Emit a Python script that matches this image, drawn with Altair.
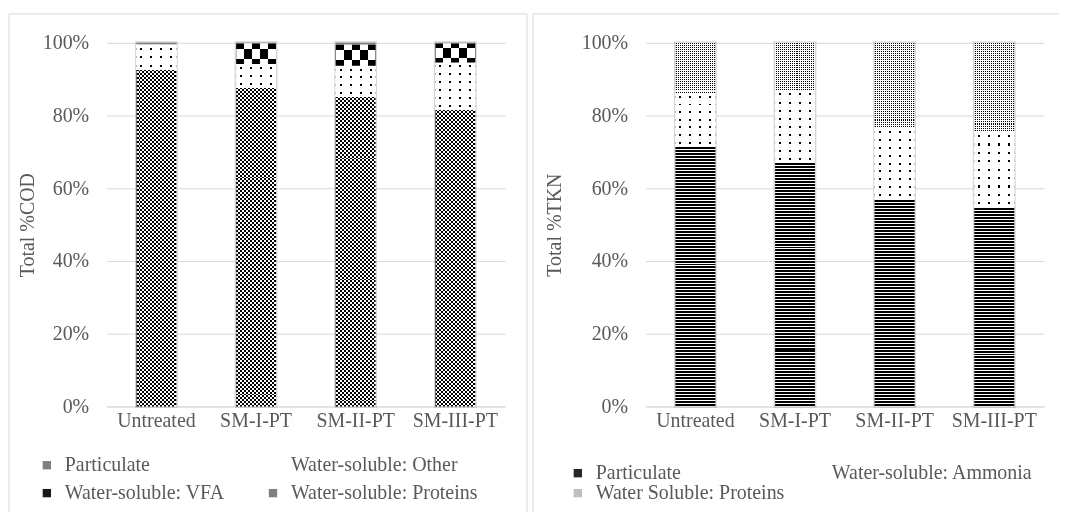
import altair as alt
import pandas as pd

# ---------------- data ----------------
categories = ["Untreated", "SM-I-PT", "SM-II-PT", "SM-III-PT"]

cod_series = ["Particulate", "Water-soluble: Other", "Water-soluble: VFA", "Water-soluble: Proteins"]
cod_particulate = [92.6, 87.6, 85.1, 81.6]
cod_other = [6.9, 6.6, 8.6, 13.0]
cod_vfa = [0.0, 5.6, 5.8, 5.2]
cod_proteins = [0.5, 0.2, 0.5, 0.2]

tkn_series = ["Particulate", "Water-soluble: Ammonia", "Water Soluble: Proteins"]
tkn_particulate = [71.5, 67.0, 57.0, 54.7]
tkn_ammonia = [14.7, 19.9, 19.6, 20.8]
tkn_proteins = [13.8, 13.1, 23.4, 24.5]

y_ticks = [0, 20, 40, 60, 80, 100]

# ---------------- style ----------------
W, H = 400, 365
FONT = "Liberation Serif"
TXT = "#595959"
GRID = "#d9d9d9"
PI = 0.6
TR = "rgba(255,255,255,0)"


def long_table(names, columns):
    rows = []
    for i, cat in enumerate(categories):
        base = 0.0
        for k, (name, vals) in enumerate(zip(names, columns)):
            v = vals[i]
            rows.append(dict(cat=cat, series=name, order=k, value=v,
                             y0=base, y1=base + v, total=100.0))
            base += v
    return pd.DataFrame(rows)


def gradient(stops, along_y):
    return {"gradient": "linear", "x1": 0, "y1": 0,
            "x2": 0 if along_y else 1, "y2": 1 if along_y else 0,
            "stops": [{"offset": round(min(1.0, o), 5), "color": c} for o, c in stops]}


def stripe_stops(n, on, off, duty):
    pad = (1 - duty) / 2
    stops = []
    for i in range(n):
        a, b = i / n, (i + 1) / n
        s1, s2 = (i + pad) / n, (i + pad + duty) / n
        stops += [(a, off), (s1, off), (s1, on), (s2, on), (s2, off), (b, off)]
    return stops


def cell_stops(c, a, b):
    stops = []
    for j in range(c):
        col = a if j % 2 == 0 else b
        stops += [(j / c, col), ((j + 1) / c, col)]
    return stops


# texture layers:
#   ("xcells", count, colorA, colorB)             -> columns across the bar
#   ("xstripes", count, on, off, duty)            -> columns across the bar
#   ("ystripes", period_px, on, off, duty, blend) -> rows along the segment
TEXTURES = {
    "fine_checker": [("xcells", 20, "#000", "#fff"),
                     ("ystripes", 4.0, "#fff", TR, 0.5, "difference")],
    "big_checker": [("xcells", 5, "#000", "#fff"),
                    ("ystripes", 16.6, "#fff", TR, 0.5, "difference")],
    "sparse_dots": [("ystripes", 8.0, "#000", "#fff", 0.25, None),
                    ("xstripes", 4, TR, "#fff", 0.2)],
    "dense_dots": [("ystripes", 2.0, "#000", "#fff", 0.5, None),
                   ("xstripes", 20, TR, "#fff", 0.5)],
    "hstripes": [("ystripes", 3.0, "#000", "#fff", 2 / 3, None)],
    "flat": [],
}


def split_rows(h, per):
    n = max(1, round(h / per))
    m = max(d for d in range(1, 13) if n % d == 0)
    return n // m, m


x_enc = alt.X("cat:N", sort=categories, title=None,
              scale=alt.Scale(paddingInner=PI, paddingOuter=PI / 2),
              axis=alt.Axis(labelAngle=0, ticks=False, domain=True, domainColor=GRID,
                            labelPadding=4, labelFont=FONT, labelFontSize=20,
                            labelColor=TXT, grid=False))


def panel(df, names, colors, kinds, ytitle, title_x, legend_x, legend_y,
          col_pad, row_pad, frame_left, frame_right, frame_bottom, draw_right_edge):
    y_axis = alt.Axis(values=y_ticks, labelExpr="datum.value + '%'", grid=True,
                      gridColor=GRID, gridWidth=1, domain=False, ticks=False,
                      labelPadding=18, labelFont=FONT, labelFontSize=20, labelColor=TXT,
                      title=ytitle, titleFont=FONT, titleFontSize=20,
                      titleFontWeight="normal", titleColor=TXT, titleX=title_x,
                      titleY=H / 2, titleAngle=270, titleAlign="center",
                      titleBaseline="middle")

    def y_enc(field):
        return alt.Y(f"{field}:Q", scale=alt.Scale(domain=[0, 100], nice=False),
                     axis=y_axis, title=ytitle)

    textured = [k for k, kind in enumerate(kinds) if kind != "flat"]
    layers = []
    # soft shadow around each whole bar
    layers.append(
        alt.Chart(df).mark_bar(fillOpacity=0, stroke="#a6a6a6", strokeWidth=3,
                               strokeOpacity=0.45)
        .encode(x=x_enc, y=y_enc("y0"), y2="total:Q")
        .transform_filter(alt.datum.order == 0)
    )
    # base bars (legend)
    layers.append(
        alt.Chart(df).mark_bar()
        .encode(x=x_enc, y=y_enc("y0"), y2="y1:Q",
                color=alt.Color("series:N", sort=names,
                                scale=alt.Scale(domain=names, range=colors),
                                legend=alt.Legend(orient="none", legendX=legend_x,
                                                  legendY=legend_y, direction="horizontal",
                                                  columns=2, title=None, symbolType="square",
                                                  symbolSize=70, symbolStrokeWidth=0,
                                                  labelFont=FONT, labelFontSize=20,
                                                  labelColor=TXT, columnPadding=col_pad,
                                                  rowPadding=row_pad, labelOffset=8,
                                                  labelLimit=0, gridAlign="each")))
    )
    # white underlay for patterned segments
    layers.append(
        alt.Chart(df).mark_bar(fill="#ffffff")
        .encode(x=x_enc, y=y_enc("y0"), y2="y1:Q")
        .transform_filter(alt.FieldOneOfPredicate(field="order", oneOf=textured))
    )
    # pattern fills
    for _, r in df.iterrows():
        kind = kinds[r["order"]]
        h = r["value"] / 100 * H
        if h < 2:
            continue
        for spec in TEXTURES[kind]:
            blend = None
            if spec[0] == "ystripes":
                _, per, on, off, duty, blend = spec
                k, m = split_rows(h, per)
                step = (r["y1"] - r["y0"]) / k
                c0 = [r["y0"] + j * step for j in range(k)]
                c1 = [r["y0"] + (j + 1) * step for j in range(k)]
                grad = gradient(stripe_stops(m, on, off, duty), True)
            elif spec[0] == "xstripes":
                _, n, on, off, duty = spec
                c0, c1 = [r["y0"]], [r["y1"]]
                grad = gradient(stripe_stops(n, on, off, duty), False)
            else:
                _, c, a, b = spec
                c0, c1 = [r["y0"]], [r["y1"]]
                grad = gradient(cell_stops(c, a, b), False)
            chunk = pd.DataFrame({"cat": [r["cat"]] * len(c0), "c0": c0, "c1": c1})
            props = {"fill": grad}
            if blend:
                props["blend"] = blend
            layers.append(
                alt.Chart(chunk).mark_bar(**props)
                .encode(x=x_enc, y=y_enc("c0"), y2="c1:Q")
            )
    # panel frame
    one = pd.DataFrame({"k": [0]})
    layers.append(alt.Chart(one).mark_rule(color=GRID, strokeWidth=1)
                  .encode(x=alt.value(frame_left), x2=alt.value(frame_right), y=alt.value(-29)))
    layers.append(alt.Chart(one).mark_rule(color=GRID, strokeWidth=1)
                  .encode(x=alt.value(frame_left), y=alt.value(-29), y2=alt.value(frame_bottom)))
    if draw_right_edge:
        layers.append(alt.Chart(one).mark_rule(color=GRID, strokeWidth=1)
                      .encode(x=alt.value(frame_right), y=alt.value(-29), y2=alt.value(frame_bottom)))
    return alt.layer(*layers).properties(width=W, height=H)


cod_df = long_table(cod_series, [cod_particulate, cod_other, cod_vfa, cod_proteins])
tkn_df = long_table(tkn_series, [tkn_particulate, tkn_ammonia, tkn_proteins])

left = panel(cod_df, cod_series, ["#808080", "#ffffff", "#1a1a1a", "#7f7f7f"],
             ["fine_checker", "sparse_dots", "big_checker", "flat"],
             "Total %COD", -79, -70, 414, 38, 8, -98, 422, 471, True)
right = panel(tkn_df, tkn_series, ["#262626", "#ffffff", "#bfbfbf"],
              ["hstripes", "sparse_dots", "dense_dots"],
              "Total %TKN", -91, -78, 422, 19, 0, -113, 415, 471, False)

chart = (alt.hconcat(left, right, spacing=4)
         .resolve_scale(color="independent")
         .resolve_legend(color="independent")
         .properties(padding={"left": 0, "top": 4, "right": 0, "bottom": 0})
         .configure_view(stroke=None))

chart.save("out.html", embed_options={"renderer": "svg", "actions": False})
